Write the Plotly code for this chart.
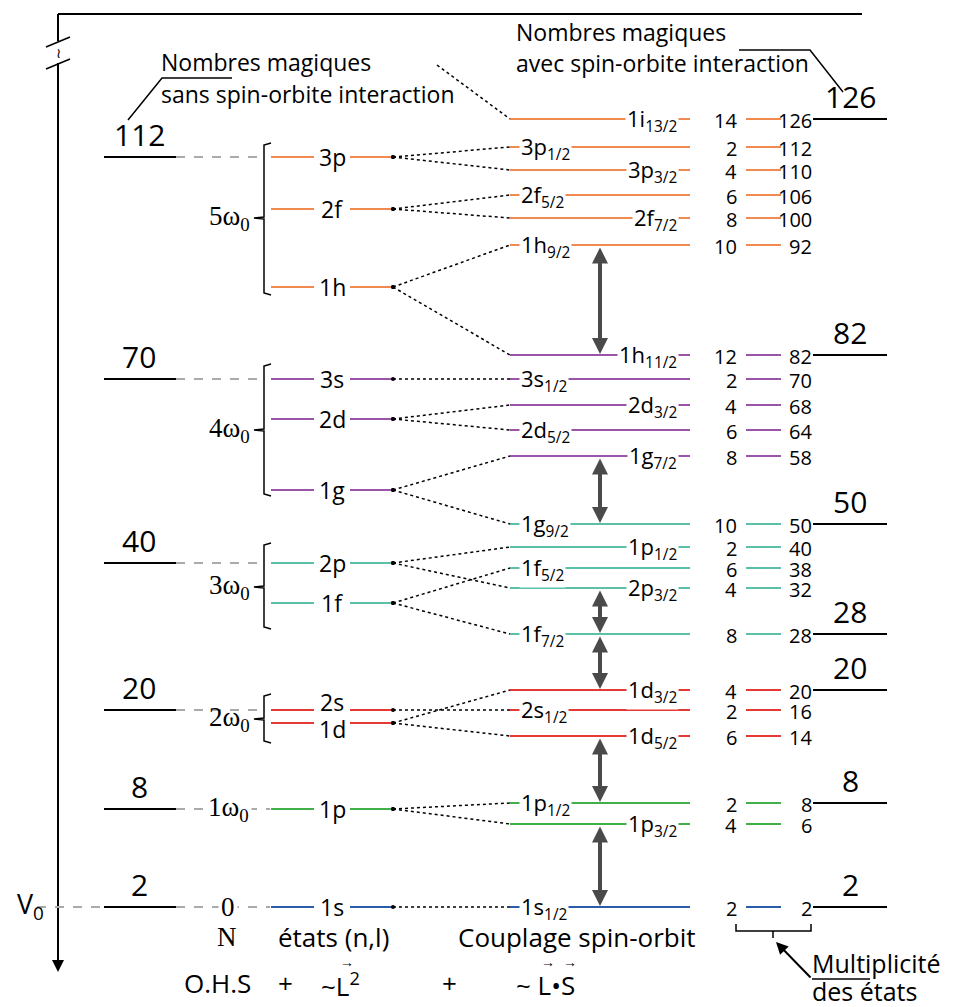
import plotly.graph_objects as go

# ---------------------------------------------------------
# Données : niveaux (position verticale = énergie, en px)
# ---------------------------------------------------------
shell_colors = ["#2A5DA8", "#41B049", "#E53935", "#5CC0A8", "#9B55A8", "#F08A50"]

# Oscillateur harmonique + L^2
ohs_names = ["1s", "1p", "1d", "2s", "1f", "2p", "1g", "2d", "3s", "1h", "2f", "3p"]
ohs_y = [907, 809, 723, 710, 603, 563, 490, 419, 379, 287, 209, 157]
ohs_group = [0, 1, 2, 2, 3, 3, 4, 4, 4, 5, 5, 5]
ohs_label_shift = [0, 0, 6, -8, 0, 0, 0, 0, 0, 0, 0, 0]

# couches N*w0
shell_labels = ["0", "1ω<sub>0</sub>", "2ω<sub>0</sub>", "3ω<sub>0</sub>", "4ω<sub>0</sub>", "5ω<sub>0</sub>"]
shell_top = [None, None, 694, 543, 364, 143]
shell_bot = [None, None, 743, 629, 496, 295]
shell_mid = [907, 809, 719, 587, 430, 218]

# couplage spin-orbite
so_names = ["1i<sub>13/2</sub>", "3p<sub>1/2</sub>", "3p<sub>3/2</sub>", "2f<sub>5/2</sub>",
            "2f<sub>7/2</sub>", "1h<sub>9/2</sub>", "1h<sub>11/2</sub>", "3s<sub>1/2</sub>",
            "2d<sub>3/2</sub>", "2d<sub>5/2</sub>", "1g<sub>7/2</sub>", "1g<sub>9/2</sub>",
            "1p<sub>1/2</sub>", "1f<sub>5/2</sub>", "2p<sub>3/2</sub>", "1f<sub>7/2</sub>",
            "1d<sub>3/2</sub>", "2s<sub>1/2</sub>", "1d<sub>5/2</sub>", "1p<sub>1/2</sub>",
            "1p<sub>3/2</sub>", "1s<sub>1/2</sub>"]
so_y = [119, 147, 170, 195, 218, 245, 355, 379, 405, 430, 456, 524,
        547, 568, 588, 634, 690, 710, 736, 803, 824, 907]
so_group = [5, 5, 5, 5, 5, 5, 4, 4, 4, 4, 4, 3, 3, 3, 3, 3, 2, 2, 2, 1, 1, 0]
so_parent = [None, "3p", "3p", "2f", "2f", "1h", "1h", "3s", "2d", "2d", "1g", "1g",
             "2p", "1f", "2p", "1f", "1d", "2s", "1d", "1p", "1p", "1s"]
so_side = ["R", "L", "R", "L", "R", "L", "R", "L", "R", "L", "R", "L",
           "R", "L", "R", "L", "R", "L", "R", "L", "R", "L"]
so_mult = [14, 2, 4, 6, 8, 10, 12, 2, 4, 6, 8, 10, 2, 6, 4, 8, 4, 2, 6, 2, 4, 2]
so_total = [126, 112, 110, 106, 100, 92, 82, 70, 68, 64, 58, 50, 40, 38, 32, 28, 20, 16, 14, 8, 6, 2]

# nombres magiques
magic_left = [2, 8, 20, 40, 70, 112]
magic_left_y = [907, 809, 710, 563, 379, 157]
magic_right = [2, 8, 20, 28, 50, 82, 126]
magic_right_y = [907, 803, 690, 634, 524, 355, 119]

# écarts spin-orbite (indices dans so_y)
gap_pairs = [(5, 6), (10, 11), (14, 15), (15, 16), (18, 19), (20, 21)]

FONT = "Open Sans"
fig = go.Figure()
ann = []


def seg(xs, ys, color, width=2, dash="solid"):
    fig.add_trace(go.Scatter(x=xs, y=ys, mode="lines", hoverinfo="skip", showlegend=False,
                             line=dict(color=color, width=width, dash=dash)))


def txt(x, y, t, size=19, xanchor="center", yanchor="middle", family=FONT, bg=None, **kw):
    d = dict(x=x, y=y, text=t, showarrow=False, xanchor=xanchor, yanchor=yanchor,
             font=dict(family=family, size=size, color="black"), borderpad=0)
    if bg:
        d["bgcolor"] = bg
    d.update(kw)
    ann.append(d)


# cadre / axe vertical
seg([58, 862], [14, 14], "black", 2)
seg([58, 58], [14, 41], "black", 2)
seg([58, 58], [63, 960], "black", 2)
seg([46, 70], [47, 37], "black", 1.5)
seg([46, 70], [69, 59], "black", 1.5)
txt(58, 52, "≀", size=14)
ann.append(dict(x=58, y=972, ax=58, ay=930, xref="x", yref="y", axref="x", ayref="y",
                showarrow=True, arrowhead=2, arrowsize=1.2, arrowwidth=2, arrowcolor="black", text=""))

# pointillés gris vers les nombres magiques de gauche
for m, y in zip(magic_left, magic_left_y):
    seg([104, 176], [y, y], "black", 2)
    txt(139, y - 1, str(m), size=30, yanchor="bottom")
    xend = 264 if m not in (2, 8) else 270
    seg([176, xend], [y, y], "#AAAAAA", 2, "dash")
seg([37, 104], [907, 907], "#AAAAAA", 2, "dash")
txt(30, 905, "V<sub>0</sub>", size=27)

# accolades des couches
for lab, top, bot, mid in zip(shell_labels, shell_top, shell_bot, shell_mid):
    if top is not None:
        seg([271, 264, 264, 254, 264, 264, 271], [top, top + 2, mid - 1, mid, mid + 1, bot - 2, bot],
            "black", 1.5)
        txt(251, mid, lab, size=27, xanchor="right", family="Liberation Serif")
    else:
        txt(228, mid, lab, size=27, family="Liberation Serif", bg="white", borderpad=2)

# niveaux O.H.S + L^2
for name, y, g, dy in zip(ohs_names, ohs_y, ohs_group, ohs_label_shift):
    seg([271, 314], [y, y], shell_colors[g], 2)
    seg([350, 393], [y, y], shell_colors[g], 2)
    txt(332, y + dy, name, size=23)

# niveaux spin-orbite, connexions, multiplicités
ohs_pos = dict(zip(ohs_names, ohs_y))
dots_x, dots_y = [], []
for name, y, g, par, side, m, tot in zip(so_names, so_y, so_group, so_parent, so_side, so_mult, so_total):
    c = shell_colors[g]
    seg([510, 690], [y, y], c, 2)
    if par is None:
        seg([437, 510], [65, y], "black", 1.5, "dot")
    else:
        seg([393, 510], [ohs_pos[par], y], "black", 1.5, "dot")
        dots_x.append(393)
        dots_y.append(ohs_pos[par])
    if side == "L":
        txt(519, y, name, size=22, xanchor="left", bg="white", borderpad=1, yshift=-1)
    else:
        txt(679, y, name, size=22, xanchor="right", bg="white", borderpad=1, yshift=-1)
    seg([746, 781], [y, y], c, 2)
    txt(738, y + 1, str(m), size=20, xanchor="right")
    txt(813, y + 1, str(tot), size=20, xanchor="right")
fig.add_trace(go.Scatter(x=dots_x, y=dots_y, mode="markers", hoverinfo="skip", showlegend=False,
                         marker=dict(color="black", size=4)))

for m, y in zip(magic_right, magic_right_y):
    seg([813, 887], [y, y], "black", 2)
    txt(850, y - 1, str(m), size=30, yanchor="bottom")

# flèches des écarts
for a, b in gap_pairs:
    ann.append(dict(x=600, y=so_y[b], ax=600, ay=so_y[a], xref="x", yref="y", axref="x", ayref="y",
                    showarrow=True, arrowhead=2, arrowside="end+start", arrowsize=0.8, arrowwidth=4,
                    arrowcolor="#4A4A4A", text="", standoff=1, startstandoff=1))

# légendes du haut
txt(160, 62, "Nombres magiques", size=23, xanchor="left")
txt(160, 94, "sans spin-orbite interaction", size=23, xanchor="left")
seg([128, 162, 232], [120, 78, 78], "black", 1.5)
txt(515, 32, "Nombres magiques", size=23, xanchor="left")
txt(515, 63, "avec spin-orbite interaction", size=23, xanchor="left")
seg([739, 810, 843], [50, 50, 92], "black", 1.5)

# légendes du bas
txt(227, 937, "N", size=27, family="Liberation Serif")
txt(333, 937, "états (n,l)", size=26)
txt(577, 937, "Couplage spin-orbit", size=26)
txt(217, 983, "O.H.S", size=26)
txt(285, 983, "+", size=26)
txt(320, 985, "~L<sup>2</sup>", size=26, xanchor="left")
txt(347, 961, "→", size=14)
txt(449, 983, "+", size=26)
txt(515, 985, "~ L•S", size=26, xanchor="left")
txt(548, 961, "→", size=14)
txt(570, 961, "→", size=14)

# multiplicité des états
seg([736, 736, 811, 811], [924, 931, 931, 924], "black", 1.5)
seg([773, 773], [931, 938], "black", 1.5)
seg([812, 870], [979, 979], "black", 1.5)
ann.append(dict(x=776, y=942, ax=812, ay=979, xref="x", yref="y", axref="x", ayref="y",
                showarrow=True, arrowhead=2, arrowsize=1.2, arrowwidth=2, arrowcolor="black", text=""))
txt(811, 963, "Multiplicité", size=25, xanchor="left")
txt(811, 991, "des états", size=25, xanchor="left")

# la page HTML ajoute une marge de 8 px : on compense pour garder les coordonnées en pixels
fig.update_layout(
    width=946, height=999,
    margin=dict(l=0, r=0, t=0, b=0),
    plot_bgcolor="white", paper_bgcolor="white",
    xaxis=dict(range=[8, 954], visible=False, fixedrange=True),
    yaxis=dict(range=[1007, 8], visible=False, fixedrange=True),
    annotations=ann,
    showlegend=False,
)
fig.write_html("out.html")
